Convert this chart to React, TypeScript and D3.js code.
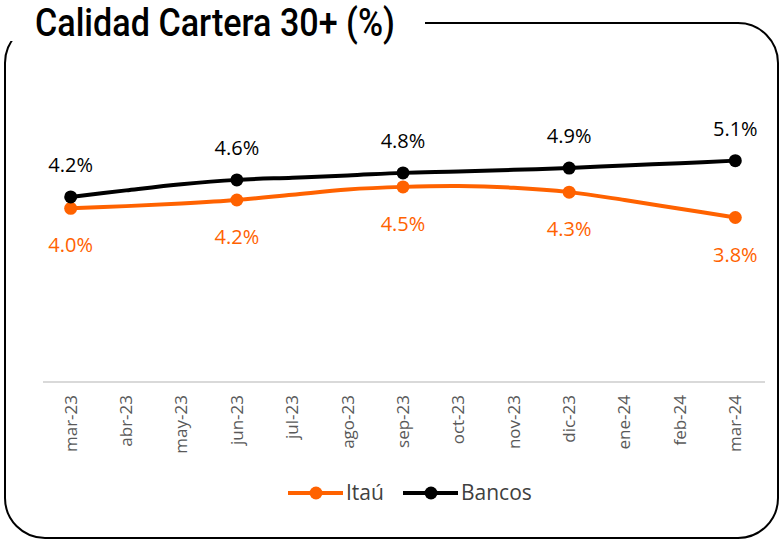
import * as d3 from "d3";

const months = ["mar-23", "abr-23", "may-23", "jun-23", "jul-23", "ago-23", "sep-23", "oct-23", "nov-23", "dic-23", "ene-24", "feb-24", "mar-24"];
const itau = [3.97, 4.02, 4.08, 4.16, 4.28, 4.4, 4.46, 4.48, 4.44, 4.34, 4.16, 3.96, 3.76];
const bancos = [4.23, 4.38, 4.52, 4.62, 4.67, 4.72, 4.78, 4.81, 4.85, 4.89, 4.95, 5.0, 5.06];
const labelledMonths = ["mar-23", "jun-23", "sep-23", "dic-23", "mar-24"];
const seriesNames = ["Itaú", "Bancos"];

const ORANGE = "#FF6200";
const BLACK = "#000000";

export default function App() {
    const size = { x: 779, y: 540 };

    const graphScale = {
        x: d3.scaleBand(months, [43, 763]),
        y: d3.scaleLinear([0, 8], [382, 32]),
    };
    const cx = (m: string) => (graphScale.x(m) ?? 0) + graphScale.x.bandwidth() / 2;

    const line = d3.line<number>()
        .x((_, i) => cx(months[i]))
        .y(v => graphScale.y(v))
        .curve(d3.curveCatmullRom.alpha(0.5));

    const series = [
        { name: seriesNames[0], values: itau, color: ORANGE, labelOffset: 44 },
        { name: seriesNames[1], values: bancos, color: BLACK, labelOffset: -25 },
    ];

    const font = "'Open Sans', 'Noto Sans', sans-serif";

    return (
        <svg
            width={size.x}
            height={size.y}
            viewBox={`0 0 ${size.x} ${size.y}`}
            style={{ position: "absolute", left: 0, top: 0, display: "block", background: "#fff" }}
        >
            {/* frame, with the title sitting over its top-left corner */}
            <rect x={5} y={23} width={773} height={515} rx={40} ry={40} fill="none" stroke="#000" strokeWidth={2} />
            <rect x={0} y={0} width={425} height={41} fill="#fff" />
            <text
                x={35}
                y={36}
                fontFamily="'Liberation Sans Narrow', Roboto, sans-serif"
                fontWeight={500}
                fontSize={38}
                textLength={360}
                lengthAdjust="spacingAndGlyphs"
                fill="#000"
            >
                Calidad Cartera 30+ (%)
            </text>

            {/* baseline */}
            <line x1={43} x2={765} y1={graphScale.y(0)} y2={graphScale.y(0)} stroke="#d9d9d9" strokeWidth={2} />

            {/* x labels */}
            <g id="x-axis">
                {months.map(m => (
                    <text
                        key={m}
                        transform={`translate(${cx(m)}, ${graphScale.y(0) + 13}) rotate(-90)`}
                        textAnchor="end"
                        dy="0.35em"
                        fontFamily={font}
                        fontSize={17}
                        fill="#595959"
                    >
                        {m}
                    </text>
                ))}
            </g>

            {/* lines, markers and labels */}
            {series.map(s => (
                <g key={s.name}>
                    <path d={line(s.values) ?? ""} fill="none" stroke={s.color} strokeWidth={4} strokeLinejoin="round" />
                    {labelledMonths.map(m => {
                        const i = months.indexOf(m);
                        const v = s.values[i];
                        return (
                            <g key={m}>
                                <circle cx={cx(m)} cy={graphScale.y(v)} r={6.5} fill={s.color} />
                                <text
                                    x={cx(m)}
                                    y={graphScale.y(v) + s.labelOffset}
                                    textAnchor="middle"
                                    fontFamily={font}
                                    fontSize={20}
                                    fill={s.color}
                                >
                                    {`${v.toFixed(1)}%`}
                                </text>
                            </g>
                        );
                    })}
                </g>
            ))}

            {/* legend */}
            <g id="legend" transform="translate(0, 493)">
                {series.map((s, i) => {
                    const x0 = i === 0 ? 288 : 403;
                    return (
                        <g key={s.name}>
                            <line x1={x0} x2={x0 + 55} y1={0} y2={0} stroke={s.color} strokeWidth={4} />
                            <circle cx={x0 + 28} cy={0} r={6.5} fill={s.color} />
                            <text x={x0 + 58} y={0} dy="0.35em" fontFamily={font} fontSize={21} fill="#404040">
                                {s.name}
                            </text>
                        </g>
                    );
                })}
            </g>
        </svg>
    );
}
